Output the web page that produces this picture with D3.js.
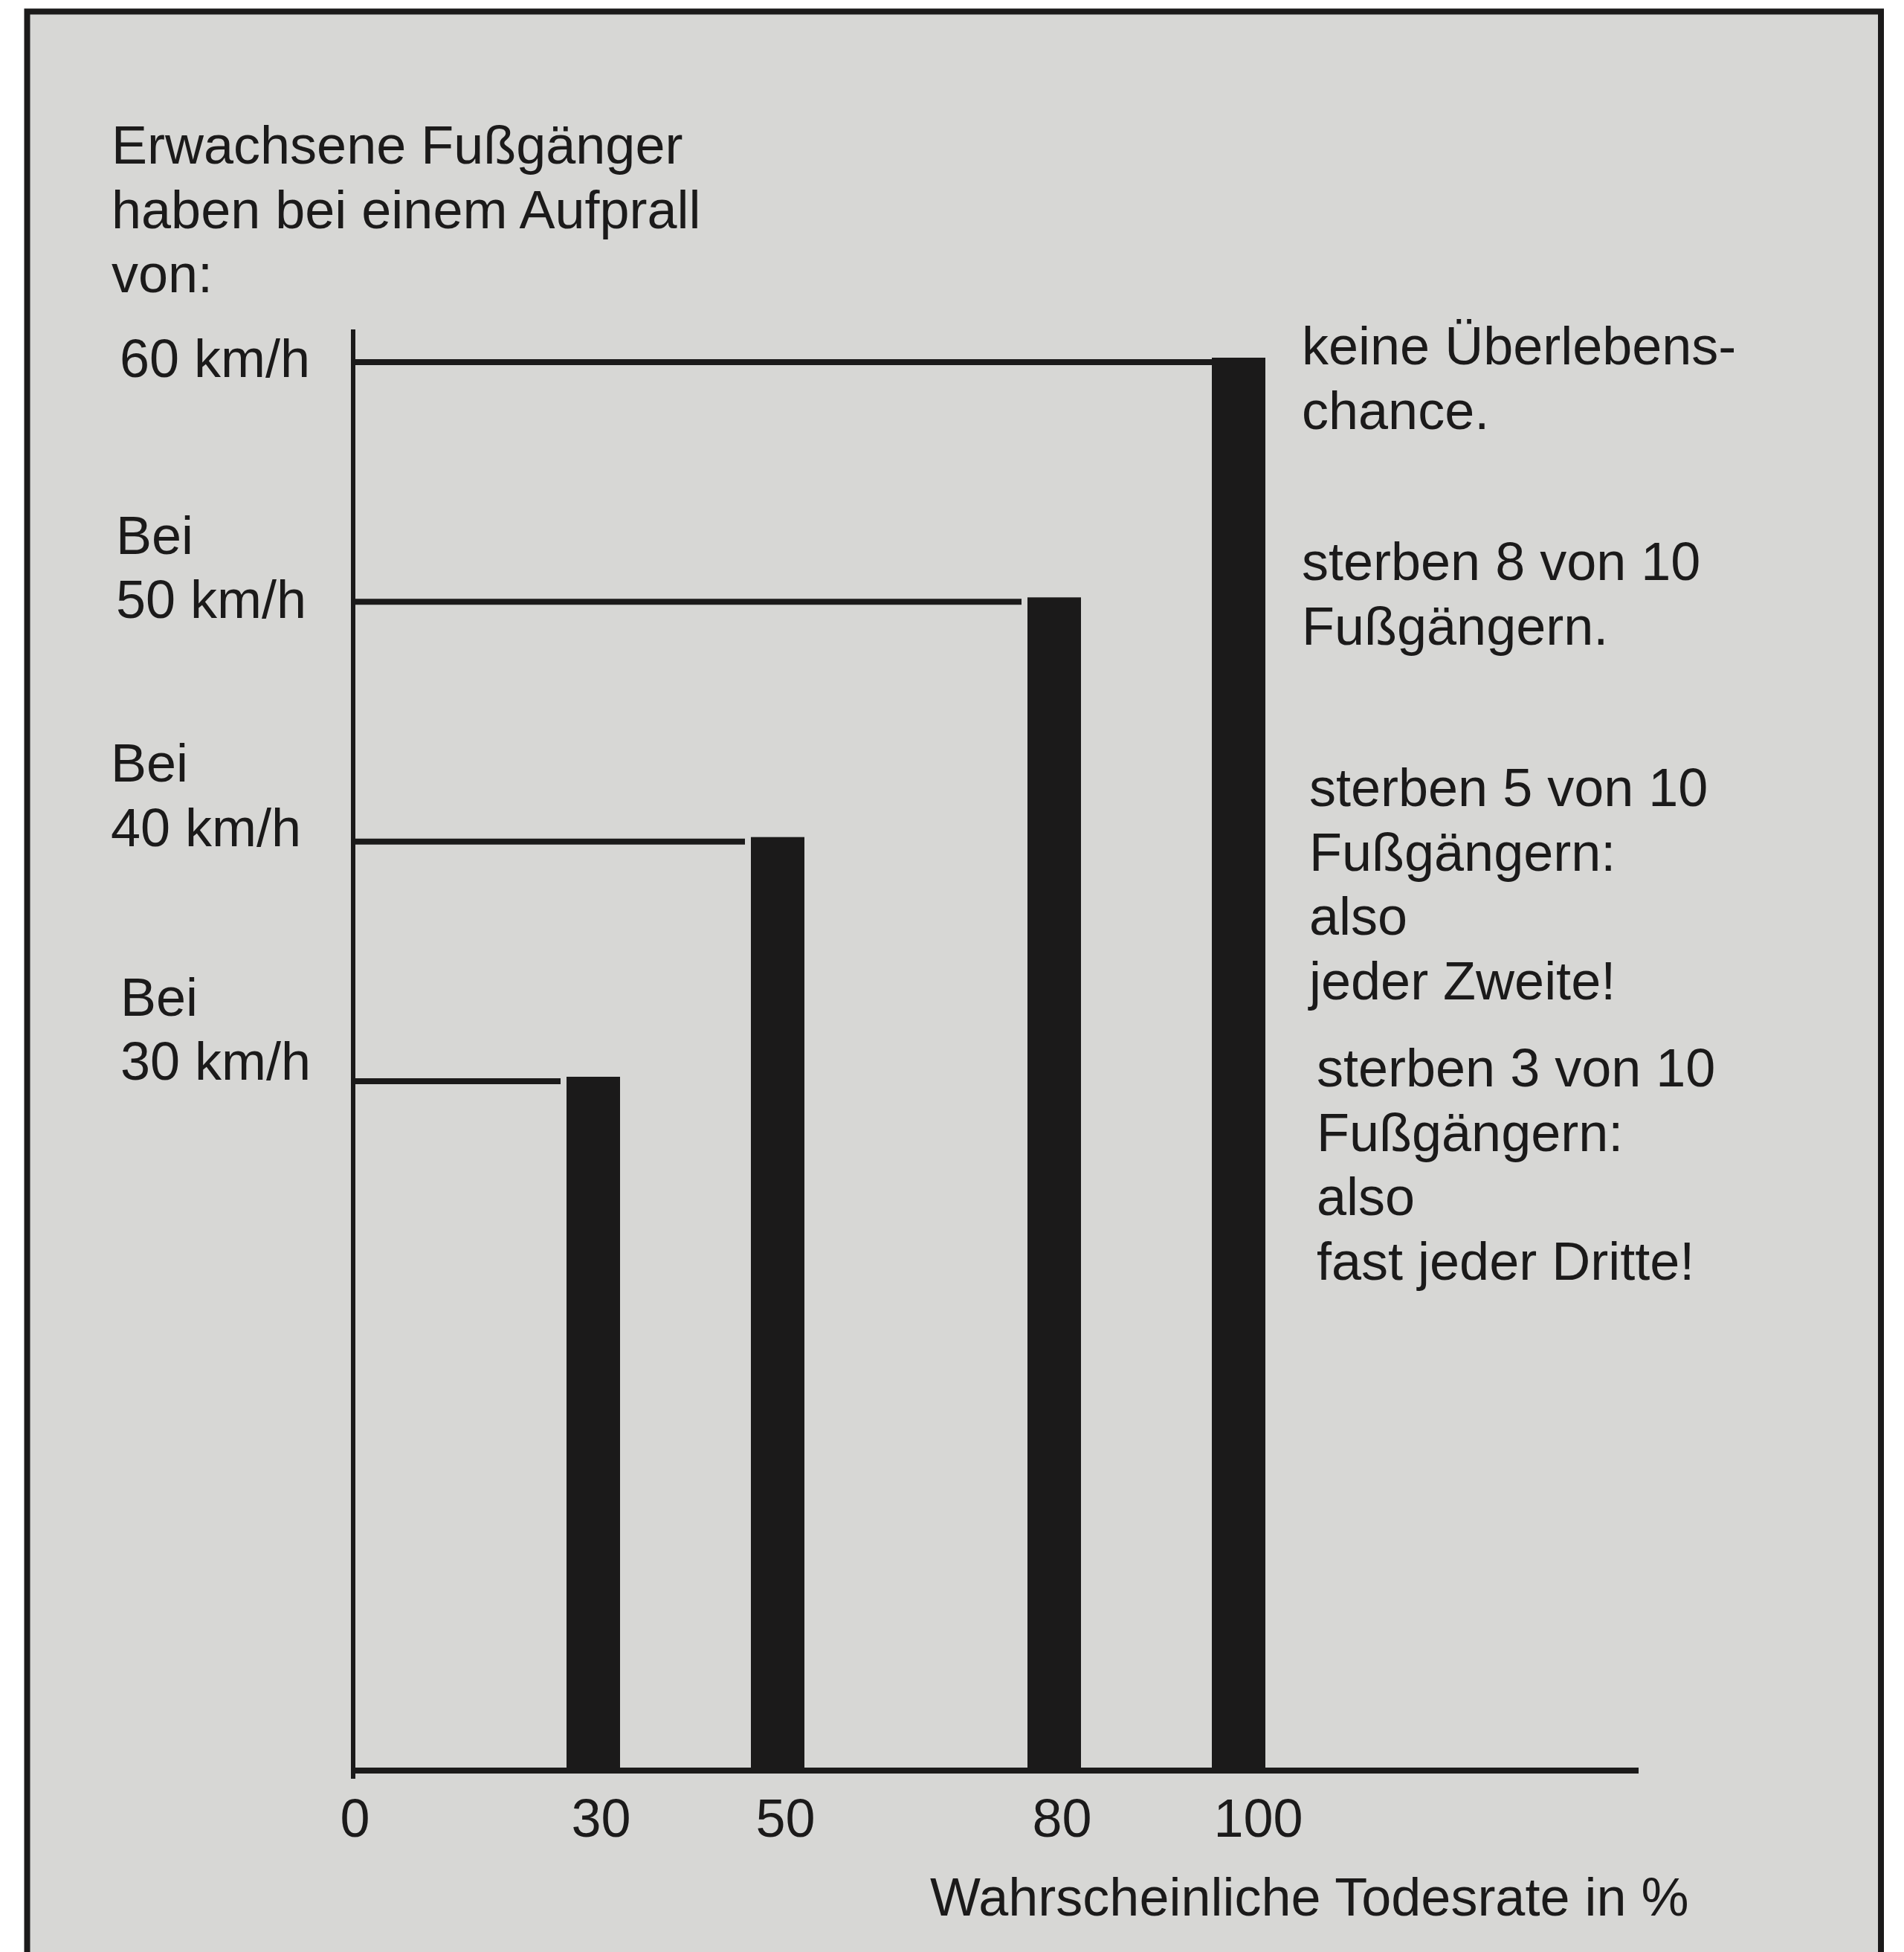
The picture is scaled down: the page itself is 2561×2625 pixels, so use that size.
<!DOCTYPE html>
<html>
<head>
<meta charset="utf-8">
<script src="https://cdn.jsdelivr.net/npm/d3@7"></script>
<style>
  body { margin: 0; background: #fff; }
  svg text { font-family: "Liberation Sans", Arial, sans-serif; fill: #1b1a1a; }
</style>
</head>
<body>
<svg id="chart"></svg>
<script>
// speeds (km/h) and the matching probable death rate (%)
const speeds = [30, 40, 50, 60];
const deathRates = [30, 50, 80, 100];
const speedLabels = [["Bei", "30 km/h"], ["Bei", "40 km/h"], ["Bei", "50 km/h"], ["60 km/h"]];
const rateTicks = [0, 30, 50, 80, 100];
const titleLines = ["Erwachsene Fußgänger", "haben bei einem Aufprall", "von:"];
const notes = [
  ["sterben 3 von 10", "Fußgängern:", "also", "fast jeder Dritte!"],
  ["sterben 5 von 10", "Fußgängern:", "also", "jeder Zweite!"],
  ["sterben 8 von 10", "Fußgängern."],
  ["keine Überlebens-", "chance."]
];
const xTitle = "Wahrscheinliche Todesrate in %";

// layout
const width = 2561;
const height = 2625;
const originX = 475;
const axisY = 2381;
const axisTop = 443;
const axisRight = 2204;
const barW = 72;
const lineW = 8;
const gap = 8;
const fontSize = 72;
const lineH = 86.5;
const ink = "#1b1a1a";
const paper = "#d7d7d5";
const labelDy = [-2, 6, 22, 20];
const labelX = [162, 149, 156, 161];
const noteX = [1771, 1761, 1751, 1751];
const noteY = [1461, 1084, 780, 490];

const svg = d3.select("#chart").attr("width", width).attr("height", height);

svg.append("rect")
  .attr("x", 36.5)
  .attr("y", 15.5)
  .attr("width", 2493.5)
  .attr("height", height + 40)
  .attr("fill", paper)
  .attr("stroke", ink)
  .attr("stroke-width", 8);

// x is not linear from the origin in the original drawing, so use a piecewise scale
const x = d3.scaleLinear().domain([0, 30, 100]).range([originX, 798, 1666]);
const y = d3.scaleLinear().domain([30, 60]).range([1454, 487]);

const rows = speeds.map((s, i) => ({
  speed: s,
  rate: deathRates[i],
  label: speedLabels[i],
  dy: labelDy[i],
  lx: labelX[i]
}));

const g = svg.append("g");

// bars
g.selectAll(".bar")
  .data(rows)
  .enter()
  .append("rect")
  .attr("class", "bar")
  .attr("x", (d) => x(d.rate) - barW / 2)
  .attr("y", (d) => y(d.speed) - lineW / 2 - 2)
  .attr("width", barW)
  .attr("height", (d) => axisY - (y(d.speed) - lineW / 2 - 2))
  .attr("fill", ink);

// speed lines
g.selectAll(".speed-line")
  .data(rows)
  .enter()
  .append("line")
  .attr("class", "speed-line")
  .attr("x1", originX)
  .attr("x2", (d) => x(d.rate) - barW / 2 - (d.rate === 100 ? 0 : gap))
  .attr("y1", (d) => y(d.speed))
  .attr("y2", (d) => y(d.speed))
  .attr("stroke", ink)
  .attr("stroke-width", lineW);

// axes lines
g.append("line")
  .attr("x1", originX)
  .attr("x2", originX)
  .attr("y1", axisTop)
  .attr("y2", axisY + 11)
  .attr("stroke", ink)
  .attr("stroke-width", 6);

g.append("line")
  .attr("x1", originX - 3)
  .attr("x2", axisRight)
  .attr("y1", axisY)
  .attr("y2", axisY)
  .attr("stroke", ink)
  .attr("stroke-width", lineW);

// tick labels
const xAxis = g.append("g")
  .attr("transform", `translate(0,${axisY})`)
  .call(d3.axisBottom(x).tickValues(rateTicks).tickSize(0).tickPadding(38).tickFormat(d3.format("d")));
xAxis.select(".domain").remove();
xAxis.selectAll("text")
  .attr("dx", (d) => (d === 0 ? 2 : d === 100 ? 26 : 10))
  .style("font-size", fontSize + "px")
  .style("font-family", '"Liberation Sans", Arial, sans-serif')
  .attr("fill", ink);

g.append("text")
  .attr("x", 1251)
  .attr("y", 2576)
  .style("font-size", fontSize + "px")
  .text(xTitle);

// speed labels, last line sits at the speed level
const labels = g.selectAll(".speed-label")
  .data(rows)
  .enter()
  .append("text")
  .attr("class", "speed-label")
  .style("font-size", fontSize + "px");

labels.selectAll("tspan")
  .data((d) => d.label.map((t, j) => ({ t, j, n: d.label.length, d })))
  .enter()
  .append("tspan")
  .attr("x", (o) => o.d.lx)
  .attr("y", (o) => y(o.d.speed) + o.d.dy - (o.n - 1 - o.j) * lineH)
  .text((o) => o.t);

// title
g.append("text")
  .style("font-size", fontSize + "px")
  .selectAll("tspan")
  .data(titleLines)
  .enter()
  .append("tspan")
  .attr("x", 150)
  .attr("y", (d, i) => 220 + i * lineH)
  .text((d) => d);

// notes on the right
g.selectAll(".note")
  .data(notes)
  .enter()
  .append("text")
  .attr("class", "note")
  .style("font-size", fontSize + "px")
  .each(function (lines, i) {
    d3.select(this)
      .selectAll("tspan")
      .data(lines)
      .enter()
      .append("tspan")
      .attr("x", noteX[i])
      .attr("y", (d, j) => noteY[i] + j * lineH)
      .text((d) => d);
  });
</script>
</body>
</html>
